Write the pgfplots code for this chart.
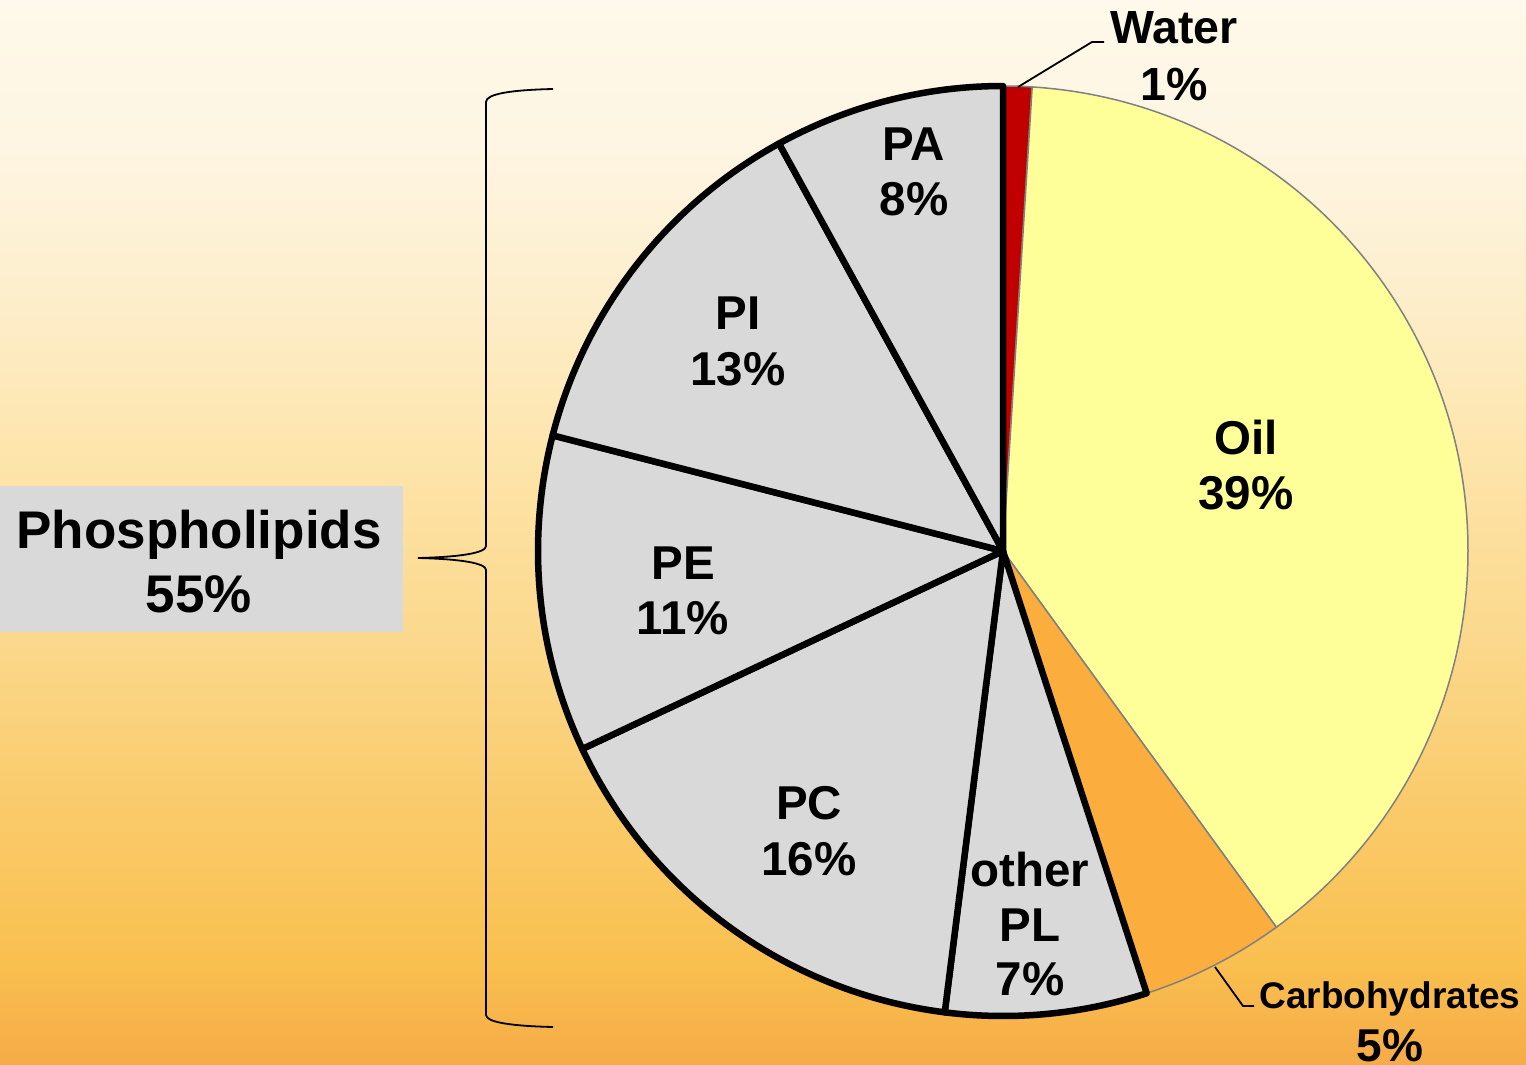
\documentclass[border=0pt]{standalone}
\usepackage{fontspec}
\setmainfont{Liberation Sans}
\usepackage{pgfplots}
\usepackage{pgfplotstable}
\pgfplotsset{compat=1.18}
\definecolor{oilC}{HTML}{FFFF99}
\definecolor{carbC}{HTML}{FBAE3D}
\definecolor{watC}{HTML}{C00000}
\definecolor{plC}{HTML}{D9D9D9}
\definecolor{edgeC}{HTML}{808080}
\definecolor{g0}{HTML}{F6AB47}
\definecolor{g1}{HTML}{F9C04F}
\definecolor{g2}{HTML}{FACB6C}
\definecolor{g3}{HTML}{FBD88C}
\definecolor{g4}{HTML}{FDE3A6}
\definecolor{g5}{HTML}{FDEECB}
\definecolor{g6}{HTML}{FEF5E2}
\definecolor{g7}{HTML}{FEF9EA}
\pgfdeclareverticalshading{bgshade}{100bp}{color(0bp)=(g0); color(25bp)=(g0); color(29.93bp)=(g1); color(37.44bp)=(g2); color(44.95bp)=(g3); color(52.46bp)=(g4); color(60.92bp)=(g5); color(67.96bp)=(g6); color(75bp)=(g7); color(100bp)=(g7)}
\tikzset{
 wat/.style={fill=watC,draw=edgeC,line width=1.5pt},
 oil/.style={fill=oilC,draw=edgeC,line width=1.5pt},
 carb/.style={fill=carbC,draw=edgeC,line width=1.5pt},
 pl/.style={fill=plC,draw=black,line width=6.5pt,line join=round},
}
\pgfplotstableread{
name value style
Water 1 wat
Oil 39 oil
Carbohydrates 5 carb
otherPL 7 pl
PC 16 pl
PE 11 pl
PI 13 pl
PA 8 pl
}\piedata
\newcommand\lab[4]{\node[font=\fontsize{#1}{#1}\selectfont\bfseries,anchor=base,inner sep=0pt] at (axis cs:#2,#3) {#4};}
\begin{document}
\begin{tikzpicture}
\begin{axis}[name=ax, width=1526pt, height=1065pt, scale only axis,
  xmin=0, xmax=1526, ymin=0, ymax=1065, y dir=reverse,
  enlargelimits=false, hide axis]
\shade[shading=bgshade] (axis cs:0,0) rectangle (axis cs:1526,1065);
\fill[plC] (axis cs:0,486) rectangle (axis cs:403,632);
\draw[line width=1.8pt] (axis cs:553,89) .. controls (axis cs:510,90) and (axis cs:486,94) .. (axis cs:486,102) -- (axis cs:486,546) .. controls (axis cs:486,553) and (axis cs:460,557) .. (axis cs:418,558) .. controls (axis cs:460,559) and (axis cs:486,563) .. (axis cs:486,570) -- (axis cs:486,1015) .. controls (axis cs:486,1022) and (axis cs:510,1026) .. (axis cs:553,1027);
\pgfplotstablegetrowsof{\piedata}
\pgfmathtruncatemacro\N{\pgfplotsretval-1}
\def\cum{0}
\pgfplotsforeachungrouped \i in {0,...,\N}{%
 \pgfplotstablegetelem{\i}{value}\of\piedata \let\pv\pgfplotsretval
 \pgfplotstablegetelem{\i}{style}\of\piedata \let\ps\pgfplotsretval
 \pgfmathsetmacro\sA{90-3.6*\cum}%
 \pgfmathsetmacro\cum{\cum+\pv}%
 \pgfmathsetmacro\sB{90-3.6*\cum}%
 \edef\temp{\noexpand\draw[\ps] (axis cs:1003,551) -- ++(\sA:465pt) arc[start angle=\sA, end angle=\sB, radius=465pt] -- cycle;}%
 \temp
}
\draw[line width=1.8pt] (axis cs:1018,87) -- (axis cs:1092,42) -- (axis cs:1104,42);
\draw[line width=1.8pt] (axis cs:1215,967) -- (axis cs:1243,1006) -- (axis cs:1254,1006);
\lab{47.5pt}{914}{160}{PA}
\lab{47.5pt}{914}{215}{8\%}
\lab{47.5pt}{738}{329}{PI}
\lab{47.5pt}{738}{385}{13\%}
\lab{47.5pt}{683}{579}{PE}
\lab{47.5pt}{683}{634}{11\%}
\lab{47.5pt}{809}{819}{PC}
\lab{47.5pt}{809}{875}{16\%}
\lab{47.5pt}{1030}{886}{other}
\lab{47.5pt}{1030}{941}{PL}
\lab{47.5pt}{1030}{995}{7\%}
\lab{47.5pt}{1246}{454}{Oil}
\lab{47.5pt}{1246}{509}{39\%}
\lab{46.5pt}{1174}{44}{Water}
\lab{46.5pt}{1174}{100}{1\%}
\lab{37pt}{1390}{1008}{Carbohydrates}
\lab{46pt}{1390}{1061}{5\%}
\lab{53pt}{199}{548}{Phospholipids}
\lab{53pt}{199}{612}{55\%}
\end{axis}
\pgfresetboundingbox
\path (ax.south west) rectangle (ax.north east);
\end{tikzpicture}
\end{document}
